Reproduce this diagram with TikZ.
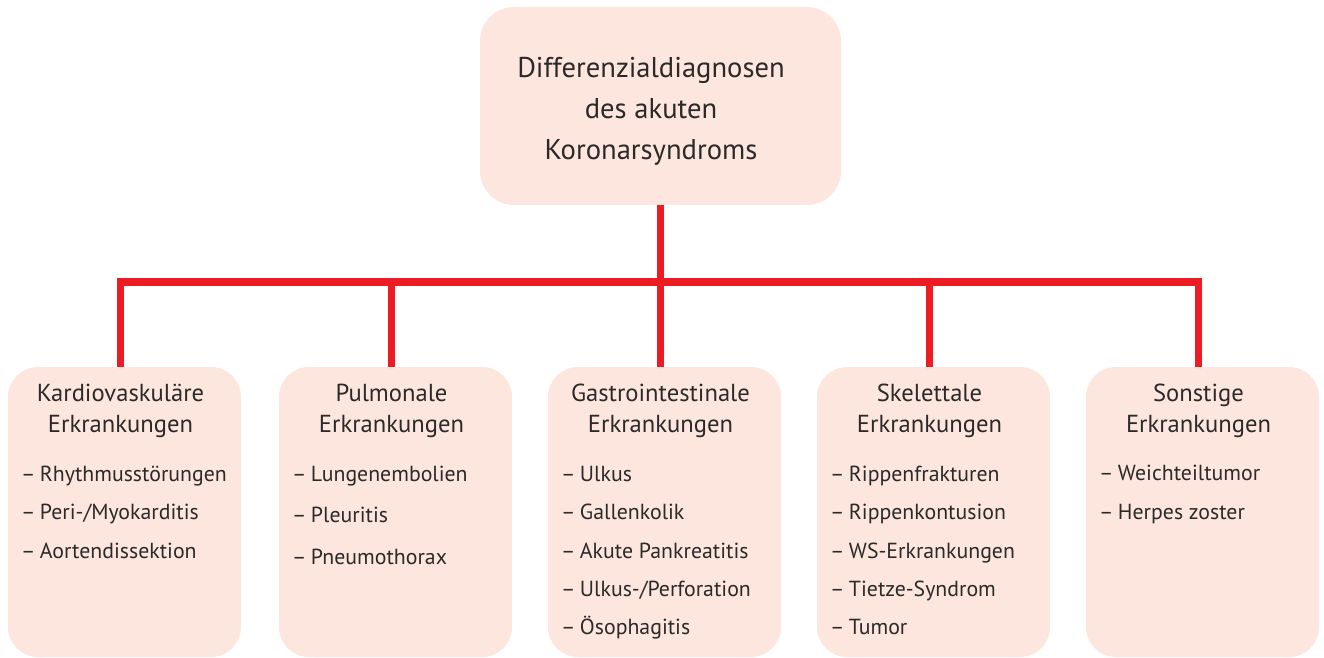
\documentclass[tikz,border=0pt]{standalone}
\usepackage{fontspec}
\setmainfont{PT Sans}
\usepackage{xcolor}
\usetikzlibrary{positioning}
\definecolor{peach}{HTML}{FDE6DD}
\definecolor{barred}{HTML}{ED1C24}
\definecolor{ink}{HTML}{2B2A29}

\tikzset{
  topbox/.style={fill=peach, rounded corners=17pt, minimum width=180.5pt, minimum height=99pt, inner sep=0pt},
  catbox/.style={fill=peach, rounded corners=15pt, minimum width=116.5pt, minimum height=145pt, inner sep=0pt},
  toptext/.style={text=ink, inner sep=0pt, anchor=base, font=\fontsize{14.3}{17}\selectfont},
  headtext/.style={text=ink, inner sep=0pt, anchor=base, font=\fontsize{12.3}{15}\selectfont},
  itemtext/.style={text=ink, inner sep=0pt, anchor=base west, font=\fontsize{10.9}{13}\selectfont},
  bar/.style={draw=barred, line width=3.6pt}
}
\newcommand{\dashitem}[1]{–\hspace{2.3pt}#1}

\begin{document}
\begin{tikzpicture}[x=0.5pt,y=-0.5pt]
\useasboundingbox (0,0) rectangle (1324,658);

% boxes
\node[topbox] (top) at (660.5,106) {};
\node[catbox] (kard) at (124.5,512) {};
\node[catbox] (pulm) at (395.5,512) {};
\node[catbox] (gastro) at (664.5,512) {};
\node[catbox] (skel) at (933.5,512) {};
\node[catbox] (sonst) at (1202.5,512) {};

% red connectors
\coordinate (bus) at (660,282);
\draw[bar] ([xshift=-2pt]kard.north) |- (bus) -| ([xshift=-2pt]sonst.north);
\draw[bar] (top.south) -- ([xshift=-2pt]gastro.north);
\draw[bar] ([xshift=-2pt]pulm.north) -- ([xshift=-2pt]pulm.north |- bus);
\draw[bar] ([xshift=-2pt]skel.north) -- ([xshift=-2pt]skel.north |- bus);

% title
\foreach \t [count=\i] in {Differenzialdiagnosen, des akuten, Koronarsyndroms}
  \node[toptext] (title-\i) at (651,37+41*\i) {\t};

% headers
\foreach \b/\h in {kard/Kardiovaskuläre, pulm/Pulmonale, gastro/Gastrointestinale, skel/Skelettale, sonst/Sonstige}{
  \node[headtext] (\b-head) at ([shift={(-4,34.5)}]\b.north) {\h};
  \node[headtext] (\b-sub) at ([shift={(-4,66)}]\b.north) {Erkrankungen};
}

% items
\foreach \t [count=\i] in {Rhythmusstörungen, Peri-/Myokarditis, Aortendissektion}
  \node[itemtext] (kard-\i) at ([shift={(13,76.5+38.3*\i)}]kard.north west) {\dashitem{\t}};
\foreach \t [count=\i] in {Lungenembolien, Pleuritis, Pneumothorax}
  \node[itemtext] (pulm-\i) at ([shift={(13,73.5+41.3*\i)}]pulm.north west) {\dashitem{\t}};
\foreach \t [count=\i] in {Ulkus, Gallenkolik, Akute Pankreatitis, Ulkus-/Perforation, Ösophagitis}
  \node[itemtext] (gastro-\i) at ([shift={(13,76.5+38.3*\i)}]gastro.north west) {\dashitem{\t}};
\foreach \t [count=\i] in {Rippenfrakturen, Rippenkontusion, WS-Erkrankungen, Tietze-Syndrom, Tumor}
  \node[itemtext] (skel-\i) at ([shift={(13,76.5+38.3*\i)}]skel.north west) {\dashitem{\t}};
\foreach \t [count=\i] in {Weichteiltumor, Herpes zoster}
  \node[itemtext] (sonst-\i) at ([shift={(13,75+39*\i)}]sonst.north west) {\dashitem{\t}};
\end{tikzpicture}
\end{document}
